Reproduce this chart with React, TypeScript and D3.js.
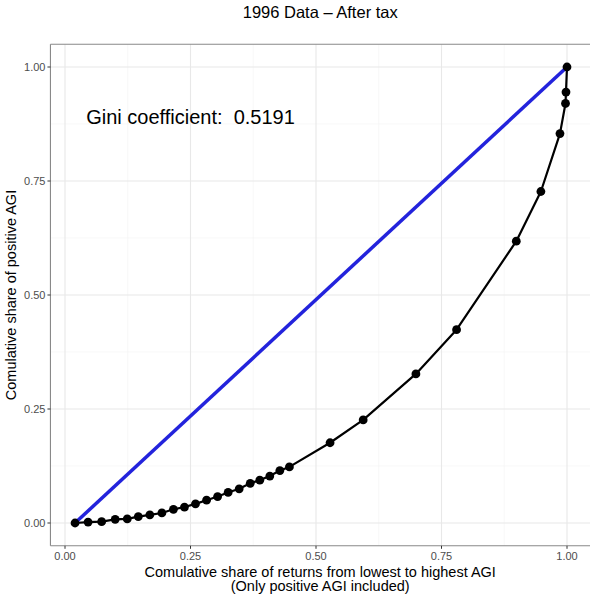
import React from "react";
import * as d3 from "d3";

// Lorenz curve points
const shareReturns = [
  0.02, 0.046, 0.073, 0.1, 0.124, 0.146, 0.169, 0.193, 0.216, 0.238, 0.26, 0.282, 0.304, 0.325, 0.347,
  0.369, 0.388, 0.408, 0.428, 0.447, 0.528, 0.594, 0.699, 0.78, 0.899, 0.948, 0.986, 0.997, 0.998, 1.0,
];
const shareAgi = [
  0, 0.002, 0.003, 0.008, 0.009, 0.014, 0.018, 0.022, 0.03, 0.035, 0.042, 0.05, 0.058, 0.067, 0.075,
  0.087, 0.094, 0.103, 0.115, 0.123, 0.176, 0.226, 0.327, 0.424, 0.618, 0.727, 0.854, 0.92, 0.945, 1.0,
];
const equalityX = [0.02, 1.0];
const equalityY = [0, 1.0];
const majorTicks = [0, 0.25, 0.5, 0.75, 1.0];
const minorTicks = [0.125, 0.375, 0.625, 0.875];
const giniLabel = "Gini coefficient:  0.5191";
const title = "1996 Data \u2013 After tax";

const W = 590, H = 594;
const font = "'Liberation Sans', Arial, sans-serif";

export default function App() {
  const x = d3.scaleLinear().domain([0, 1]).range([65, 567]);
  const y = d3.scaleLinear().domain([0, 1]).range([523, 67]);
  // panel with ggplot's 5% expansion
  const [x0, x1] = [x(-0.029), x(1.049)];
  const [y0, y1] = [y(-0.05), y(1.05)];

  const pts = shareReturns.map((d, i) => [d, shareAgi[i]] as [number, number]);
  const line = d3.line<[number, number]>().x(d => x(d[0])).y(d => y(d[1]));
  const diag = equalityX.map((d, i) => [d, equalityY[i]] as [number, number]);

  return (
    <svg width={W} height={H} style={{ position: "absolute", left: 0, top: 0, background: "#fff" }} fontFamily={font}>
      <rect width={W} height={H} fill="#fff" />
      {/* grid */}
      {minorTicks.map(t => (
        <g key={"m" + t}>
          <line x1={x(t)} x2={x(t)} y1={y0} y2={y1} stroke="#f3f3f3" strokeWidth={0.6} />
          <line x1={x0} x2={x1} y1={y(t)} y2={y(t)} stroke="#f3f3f3" strokeWidth={0.6} />
        </g>
      ))}
      {majorTicks.map(t => (
        <g key={"g" + t}>
          <line x1={x(t)} x2={x(t)} y1={y0} y2={y1} stroke="#e8e8e8" strokeWidth={1.1} />
          <line x1={x0} x2={x1} y1={y(t)} y2={y(t)} stroke="#e8e8e8" strokeWidth={1.1} />
        </g>
      ))}
      {/* panel lines */}
      <line x1={x0} x2={x0} y1={y0} y2={y1} stroke="#888" strokeWidth={1.1} />
      <line x1={x0} x2={x1} y1={y0} y2={y0} stroke="#888" strokeWidth={1.1} />
      <line x1={x0} x2={x1} y1={y1} y2={y1} stroke="#888" strokeWidth={1.1} />

      {/* ticks + labels */}
      {majorTicks.map(t => (
        <g key={"t" + t} fontSize={11} fill="#4d4d4d">
          <line x1={x0 - 3} x2={x0} y1={y(t)} y2={y(t)} stroke="#333" strokeWidth={1} />
          <text x={x0 - 5} y={y(t) + 4} textAnchor="end">{t.toFixed(2)}</text>
          <line x1={x(t)} x2={x(t)} y1={y0} y2={y0 + 3} stroke="#333" strokeWidth={1} />
          <text x={x(t)} y={y0 + 14} textAnchor="middle">{t.toFixed(2)}</text>
        </g>
      ))}

      {/* curves */}
      <path d={line(pts) || ""} fill="none" stroke="#000" strokeWidth={2.2} strokeLinejoin="round" />
      <path d={line(diag) || ""} fill="none" stroke="#2323dc" strokeWidth={3.5} />
      {pts.map((d, i) => (
        <circle key={i} cx={x(d[0])} cy={y(d[1])} r={4.4} fill="#000" />
      ))}

      <text x={x(0.25)} y={y(0.89) + 7} textAnchor="middle" fontSize={20} fill="#000" style={{ whiteSpace: "pre" }}>
        {giniLabel}
      </text>

      {/* titles */}
      <text x={(x0 + W) / 2} y={18} textAnchor="middle" fontSize={16.5} fill="#000">{title}</text>
      <text x={(x0 + W) / 2} y={576.5} textAnchor="middle" fontSize={14.5} fill="#000">
        Comulative share of returns from lowest to highest AGI
      </text>
      <text x={(x0 + W) / 2} y={590.5} textAnchor="middle" fontSize={14.5} fill="#000">
        (Only positive AGI included)
      </text>
      <text transform={`translate(15.5,${(y0 + y1) / 2}) rotate(-90)`} textAnchor="middle" fontSize={14.5} fill="#000">
        Comulative share of positive AGI
      </text>
    </svg>
  );
}
